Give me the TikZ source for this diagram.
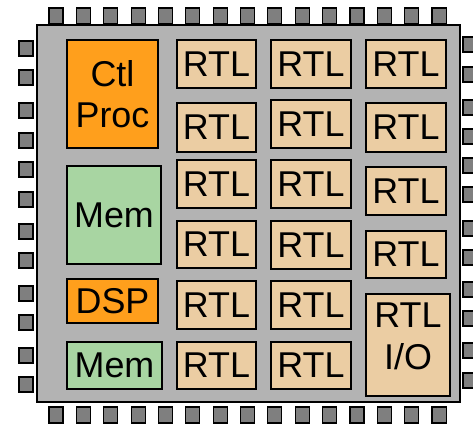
\documentclass[tikz,border=0pt]{standalone}
\usepackage{fontspec}
\setmainfont{Liberation Sans}
\definecolor{chipgray}{HTML}{B3B3B3}
\definecolor{pingray}{HTML}{7F7F7F}
\definecolor{ctlorange}{HTML}{FF9F1C}
\definecolor{memgreen}{HTML}{A8D5A2}
\definecolor{rtltan}{HTML}{EBCDA3}
\begin{document}
\begin{tikzpicture}[x=1bp,y=-1bp,
  pin/.style={draw=black, fill=pingray, line width=1.1bp, inner sep=0pt, outer sep=0pt},
  blk/.style={draw=black, line width=1.6bp, inner sep=0pt, outer sep=0pt, anchor=north west,
     font=\fontsize{36}{41}\selectfont, align=center},
  rtl/.style={blk, fill=rtltan},
  org/.style={blk, fill=ctlorange},
  grn/.style={blk, fill=memgreen},
  lbl/.style={inner sep=0pt, font=\fontsize{36}{42}\selectfont, align=center}]
\useasboundingbox (0,0) rectangle (473,423);
% chip body
\node[draw=black, fill=chipgray, line width=1.5bp, inner sep=0pt, anchor=north west,
      minimum width=423bp, minimum height=377bp] (chip) at (36,24) {};
% top and bottom pins
\foreach \k in {0,...,14}{
  \pgfmathsetmacro{\cx}{56+\k*27.36}
  \node[pin, minimum width=14bp, minimum height=16bp] (pt\k) at (\cx,16) {};
  \node[pin, minimum width=14bp, minimum height=16bp] (pb\k) at (\cx,415) {};
}
% left pins
\foreach \y [count=\i] in {41,70,103,133,162,192,224,253,286,315,348,377}{
  \node[pin, minimum width=14bp, minimum height=15bp, anchor=north west] (pl\i) at (19,\y) {};
}
% right pins
\foreach \y [count=\i] in {37,67,100,129,158,187,221,250,282,311,343,373}{
  \node[pin, minimum width=14bp, minimum height=15bp, anchor=north west] (pr\i) at (463,\y) {};
}
% left column blocks
\node[org, minimum width=91bp, minimum height=108bp] (ctl) at (67,40) {Ctl\\Proc};
\node[grn, minimum width=94bp, minimum height=98bp] (mem1) at (67,166) {Mem};
\node[org, minimum width=91bp, minimum height=44bp] (dsp) at (67,279) {DSP};
\node[grn, minimum width=95bp, minimum height=47bp] (mem2) at (67,342) {Mem};
% RTL column 1
\node[rtl, minimum width=79bp, minimum height=48bp] (a1) at (177,40) {RTL};
\node[rtl, minimum width=79bp, minimum height=49bp] (a2) at (177,103) {RTL};
\node[rtl, minimum width=79bp, minimum height=48bp] (a3) at (177,160) {RTL};
\node[rtl, minimum width=79bp, minimum height=47bp] (a4) at (177,221) {RTL};
\node[rtl, minimum width=79bp, minimum height=48bp] (a5) at (177,281) {RTL};
\node[rtl, minimum width=79bp, minimum height=47bp] (a6) at (177,342) {RTL};
% RTL column 2
\node[rtl, minimum width=80bp, minimum height=48bp] (b1) at (271,40) {RTL};
\node[rtl, minimum width=80bp, minimum height=48bp] (b2) at (271,100) {RTL};
\node[rtl, minimum width=80bp, minimum height=48bp] (b3) at (271,160) {RTL};
\node[rtl, minimum width=80bp, minimum height=48bp] (b4) at (271,221) {RTL};
\node[rtl, minimum width=80bp, minimum height=48bp] (b5) at (271,281) {RTL};
\node[rtl, minimum width=80bp, minimum height=47bp] (b6) at (271,342) {RTL};
% RTL column 3
\node[rtl, minimum width=80bp, minimum height=48bp] (c1) at (366,40) {RTL};
\node[rtl, minimum width=80bp, minimum height=49bp] (c2) at (366,103) {RTL};
\node[rtl, minimum width=80bp, minimum height=48bp] (c3) at (366,167) {RTL};
\node[rtl, minimum width=80bp, minimum height=47bp] (c4) at (366,231) {RTL};
\node[rtl, minimum width=84bp, minimum height=102bp] (io) at (366,294) {};
\node[lbl] (iot) at ([yshift=9bp]io.center) {RTL\\I/O};
\end{tikzpicture}
\end{document}
